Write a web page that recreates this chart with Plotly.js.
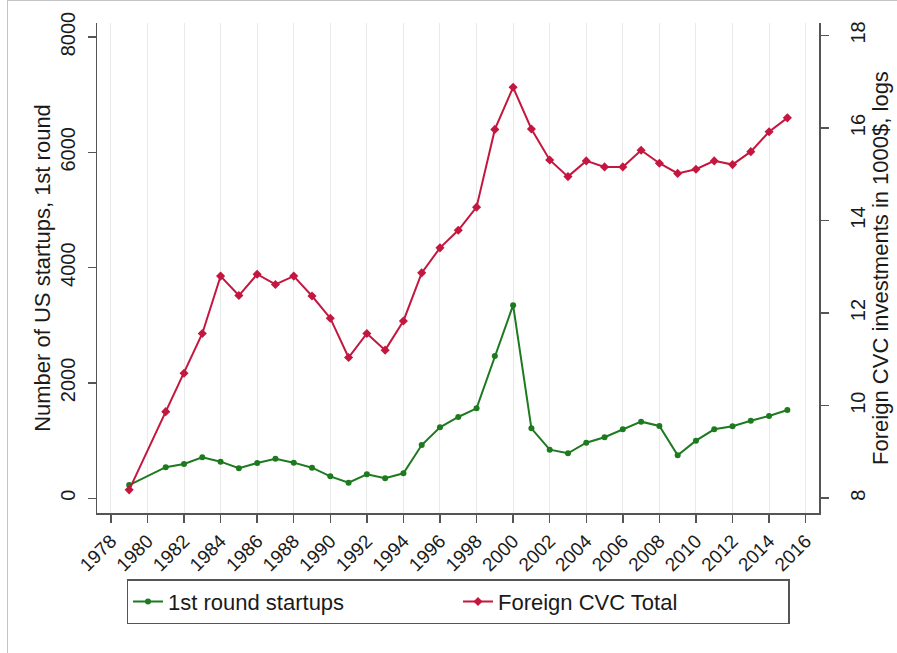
<!DOCTYPE html>
<html>
<head>
<meta charset="utf-8">
<script src="https://cdn.plot.ly/plotly-3.0.1.min.js"></script>
<style>
  html, body { margin: 0; padding: 0; background: #ffffff; }
  #chart { width: 897px; height: 653px; }
  .frame-l { position: absolute; left: 7px; top: 0; width: 1px; height: 653px; background: #c4c4c4; }
  .frame-t { position: absolute; left: 7px; top: 0; width: 890px; height: 1px; background: #c4c4c4; }
</style>
</head>
<body>
<div id="chart"></div>
<div class="frame-l"></div>
<div class="frame-t"></div>
<script>
// Years (1980 is absent in the source data)
const years = [1979, 1981, 1982, 1983, 1984, 1985, 1986, 1987, 1988, 1989, 1990,
               1991, 1992, 1993, 1994, 1995, 1996, 1997, 1998, 1999, 2000,
               2001, 2002, 2003, 2004, 2005, 2006, 2007, 2008, 2009, 2010,
               2011, 2012, 2013, 2014, 2015];

// Number of US startups, 1st round (left axis)
const startups = [230, 540, 595, 710, 635, 520, 612, 687, 618, 531, 381,
                  271, 416, 347, 434, 924, 1231, 1410, 1561, 2468, 3350,
                  1214, 843, 780, 964, 1058, 1197, 1329, 1254, 746, 999,
                  1197, 1249, 1346, 1427, 1531];

// Foreign CVC investments in 1000$, logs (right axis)
const foreignCVC = [8.18, 9.87, 10.70, 11.56, 12.80, 12.38, 12.84, 12.62, 12.80, 12.37, 11.89,
                    11.04, 11.56, 11.20, 11.83, 12.87, 13.41, 13.79, 14.29, 15.97, 16.88,
                    15.98, 15.31, 14.95, 15.29, 15.16, 15.16, 15.52, 15.24, 15.02, 15.11,
                    15.29, 15.21, 15.49, 15.92, 16.22];

const seriesNames = ['1st round startups', 'Foreign CVC Total'];
const leftTitle = 'Number of US startups, 1st round';
const rightTitle = 'Foreign CVC investments in 1000$, logs';

const GREEN = '#1d7a1f';
const RED = '#c4173f';
const FONT = 'Liberation Sans, Arial, Helvetica, sans-serif';

const traces = [
  {
    x: years, y: startups, name: seriesNames[0], type: 'scatter', mode: 'lines+markers',
    yaxis: 'y',
    line: { color: GREEN, width: 2 },
    marker: { color: GREEN, size: 6, symbol: 'circle' }
  },
  {
    x: years, y: foreignCVC, name: seriesNames[1], type: 'scatter', mode: 'lines+markers',
    yaxis: 'y2',
    line: { color: RED, width: 2 },
    marker: { color: RED, size: 7, symbol: 'diamond' }
  }
];

const axisCommon = {
  showline: true, linecolor: '#555555', linewidth: 1.5,
  ticks: 'outside', ticklen: 8, tickcolor: '#555555', tickwidth: 1.5,
  zeroline: false, automargin: false,
  tickfont: { family: FONT, size: 20, color: '#1a1a1a' }
};

const layout = {
  width: 897, height: 653,
  paper_bgcolor: '#ffffff', plot_bgcolor: '#ffffff',
  margin: { l: 97, r: 78, t: 23, b: 140 },
  font: { family: FONT, color: '#1a1a1a' },
  showlegend: true,
  xaxis: Object.assign({}, axisCommon, {
    range: [1977.24, 2016.73],
    tick0: 1978, dtick: 2,
    tickangle: -45,
    tickfont: { family: FONT, size: 19, color: '#1a1a1a' },
    showgrid: true, gridcolor: '#e9e9e9', gridwidth: 1
  }),
  yaxis: Object.assign({}, axisCommon, {
    range: [-255, 8243],
    tick0: 0, dtick: 2000,
    tickangle: -90,
    ticklabelstandoff: 5,
    showgrid: false,
    automargin: true,
    title: { text: leftTitle, standoff: 0, font: { family: FONT, size: 22, color: '#1a1a1a' } }
  }),
  yaxis2: Object.assign({}, axisCommon, {
    overlaying: 'y', side: 'right',
    range: [7.68, 18.27],
    tick0: 8, dtick: 2,
    tickangle: -90,
    ticklabelstandoff: 12,
    showgrid: false,
    automargin: true,
    title: { text: rightTitle, standoff: 0, font: { family: FONT, size: 22, color: '#1a1a1a' } }
  }),
  legend: {
    orientation: 'h',
    x: 0.5, xanchor: 'center',
    y: -0.135, yanchor: 'top',
    bordercolor: '#555555', borderwidth: 1.5,
    bgcolor: '#ffffff',
    font: { family: FONT, size: 22, color: '#1a1a1a' },
    entrywidth: 285
  }
};

Plotly.newPlot('chart', traces, layout, { displayModeBar: false, staticPlot: true });
</script>
</body>
</html>
